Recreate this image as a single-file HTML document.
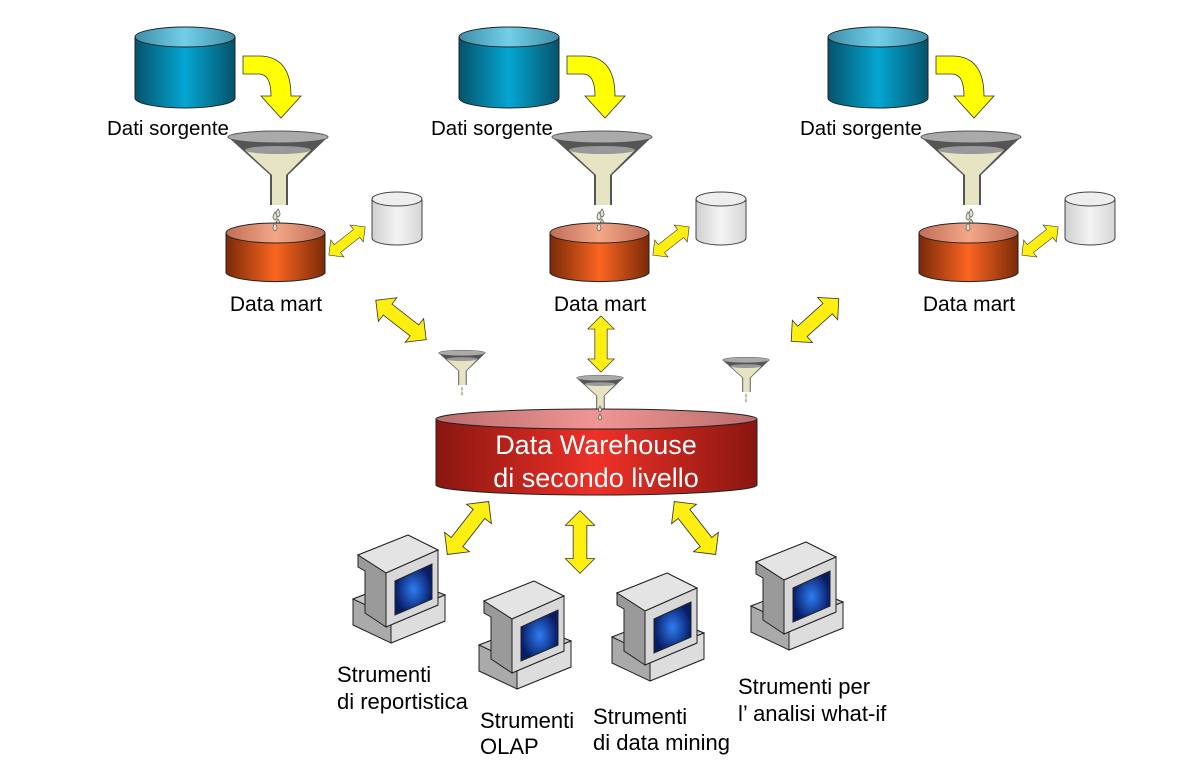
<!DOCTYPE html>
<html><head><meta charset="utf-8"><style>
html,body{margin:0;padding:0;background:#fff;}
svg{display:block;}
text{font-family:"Liberation Sans",Arial,sans-serif;}
</style></head><body>
<svg width="1198" height="784" viewBox="0 0 1198 784" xmlns="http://www.w3.org/2000/svg">
<defs>
<linearGradient id="blue" x1="0" x2="1"><stop offset="0" stop-color="#05536b"/><stop offset="0.5" stop-color="#04a6d2"/><stop offset="1" stop-color="#05536b"/></linearGradient>
<linearGradient id="blueTop" x1="0" x2="1"><stop offset="0" stop-color="#3f8ea8"/><stop offset="0.5" stop-color="#72cfe8"/><stop offset="1" stop-color="#3f8ea8"/></linearGradient>
<linearGradient id="orange" x1="0" x2="1"><stop offset="0" stop-color="#7a2a08"/><stop offset="0.5" stop-color="#fb6521"/><stop offset="1" stop-color="#7a2a08"/></linearGradient>
<linearGradient id="orangeTop" x1="0" x2="1"><stop offset="0" stop-color="#c06e56"/><stop offset="0.5" stop-color="#f4a888"/><stop offset="1" stop-color="#c06e56"/></linearGradient>
<linearGradient id="grey" x1="0" x2="1"><stop offset="0" stop-color="#cfcfcf"/><stop offset="0.5" stop-color="#f4f4f4"/><stop offset="1" stop-color="#d6d6d6"/></linearGradient>
<linearGradient id="red" x1="0" x2="1"><stop offset="0" stop-color="#8a1610"/><stop offset="0.5" stop-color="#ee3128"/><stop offset="1" stop-color="#8a1610"/></linearGradient>
<linearGradient id="redTop" x1="0" x2="1"><stop offset="0" stop-color="#bb6d6d"/><stop offset="0.5" stop-color="#f09595"/><stop offset="1" stop-color="#bb6d6d"/></linearGradient>
<radialGradient id="screen"><stop offset="0" stop-color="#2f7cf2"/><stop offset="1" stop-color="#081c66"/></radialGradient>
<g id="funnel">
  <polygon points="-50,0 50,0 10,38 10,68 -8,68 -8,38" fill="#555"/>
  <polygon points="-33,13 33,13 8,38 8,68 -6,68 -6,38" fill="#e6e4c2"/>
  <ellipse cx="0" cy="13" rx="33" ry="4" fill="#999"/>
  <ellipse cx="0" cy="0" rx="50" ry="6" fill="#aaa" stroke="#555" stroke-width="1"/>
  <path d="M0,72 q4,6 0,8 q-4,-2 0,-8z M0,82 q4,6 0,8 q-4,-2 0,-8z" fill="#e6e4c2" stroke="#666" stroke-width="0.8"/>
</g>
<g id="darr"><polygon points="-32,0 -17,-15 -17,-7 17,-7 17,-15 32,0 17,15 17,7 -17,7 -17,15" fill="#ffef10" stroke="#333" stroke-width="0.8"/></g>
<g id="comp" stroke="#222" stroke-width="1">
  <polygon points="0,66 52,46 92,62 92,88 38,110 0,92" fill="#aaa"/>
  <polygon points="0,66 52,46 92,62 38,84" fill="#c8c8c8"/>
  <polygon points="38,84 92,62 92,88 38,110" fill="#ddd"/>
  <polygon points="5,22 55,2 85,17 85,72 33,94 33,40" fill="#a8a8a8"/>
  <polygon points="5,22 55,2 85,17 33,40" fill="#e4e4e4"/>
  <polygon points="5,22 33,40 33,94 12,80 12,38 5,34" fill="#9a9a9a"/>
  <polygon points="33,40 85,17 85,72 33,94" fill="#d8d8d8"/>
  <polygon points="42,48 79,31 79,66 42,82" fill="url(#screen)"/>
</g>
<g id="curv"><path d="M0,0 L16,0 Q48,0 48,40 L58,40 L38,62 L18,40 L28,40 Q28,18 16,18 L0,18Z" fill="#ffff00" stroke="#333" stroke-width="0.8"/></g>
<g id="col">
  <path d="M0,10 L0,71 A50,10 0 0 0 100,71 L100,10Z" fill="url(#blue)" stroke="#222"/>
  <ellipse cx="50" cy="10" rx="50" ry="10" fill="url(#blueTop)" stroke="#222"/>
  <use href="#curv" transform="translate(108,29)"/>
  <text x="-28" y="108" font-size="20.5">Dati sorgente</text>
  <use href="#funnel" transform="translate(143,110)"/>
  <path d="M91,206 L91,246 A50,10 0 0 0 190,246 L190,206Z" fill="url(#orange)" stroke="#222"/>
  <ellipse cx="140.5" cy="206" rx="49.5" ry="10" fill="url(#orangeTop)" stroke="#222"/>
  <path d="M140,185 q4,6 0,8 q-4,-2 0,-8z M140,196 q4,6 0,8 q-4,-2 0,-8z" fill="#e6e4c2" stroke="#666" stroke-width="0.8"/>
  <path d="M237,172 L237,211 A25,7 0 0 0 287,211 L287,172Z" fill="url(#grey)" stroke="#444"/>
  <ellipse cx="262" cy="172" rx="25" ry="7" fill="#eee" stroke="#444"/>
  <use href="#darr" transform="translate(212,214) rotate(-38) scale(0.72)"/>
  <text x="141" y="284" font-size="21" text-anchor="middle">Data mart</text>
</g>
</defs>
<use href="#col" transform="translate(135,27)"/>
<use href="#col" transform="translate(459,27)"/>
<use href="#col" transform="translate(828,27)"/>

<use href="#darr" transform="translate(401,320) rotate(38) scale(1)"/>
<use href="#darr" transform="translate(601,344) rotate(90) scale(0.88)"/>
<use href="#darr" transform="translate(815,320) rotate(-42) scale(1)"/>

<use href="#funnel" transform="translate(462,353) scale(0.47)"/>
<use href="#funnel" transform="translate(600,378) scale(0.47)"/>
<use href="#funnel" transform="translate(746,360) scale(0.47)"/>

<path d="M436,419 L436,485 A160.5,10 0 0 0 757,485 L757,419Z" fill="url(#red)" stroke="#222"/>
<ellipse cx="596.5" cy="419" rx="160.5" ry="10" fill="url(#redTop)" stroke="#222"/>
<path d="M600,406 q3,5 0,6 q-3,-1 0,-6z M600,414 q3,5 0,6 q-3,-1 0,-6z" fill="#e6e4c2" stroke="#666" stroke-width="0.8"/>
<text x="596" y="454" font-size="27" fill="#fff" text-anchor="middle">Data Warehouse</text>
<text x="596" y="487" font-size="27" fill="#fff" text-anchor="middle">di secondo livello</text>

<use href="#darr" transform="translate(468,528) rotate(-52) scale(1.05)"/>
<use href="#darr" transform="translate(580,542) rotate(90) scale(0.98)"/>
<use href="#darr" transform="translate(695,528) rotate(52) scale(1.05)"/>

<use href="#comp" transform="translate(353,533)"/>
<use href="#comp" transform="translate(479,579)"/>
<use href="#comp" transform="translate(612,571)"/>
<use href="#comp" transform="translate(751,540)"/>

<g font-size="22">
<text x="337" y="682">Strumenti</text><text x="337" y="709">di reportistica</text>
<text x="480" y="728">Strumenti</text><text x="480" y="754">OLAP</text>
<text x="593" y="724">Strumenti</text><text x="593" y="750">di data mining</text>
<text x="738" y="694">Strumenti per</text><text x="738" y="721">l’ analisi what-if</text>
</g>
</svg>
</body></html>
